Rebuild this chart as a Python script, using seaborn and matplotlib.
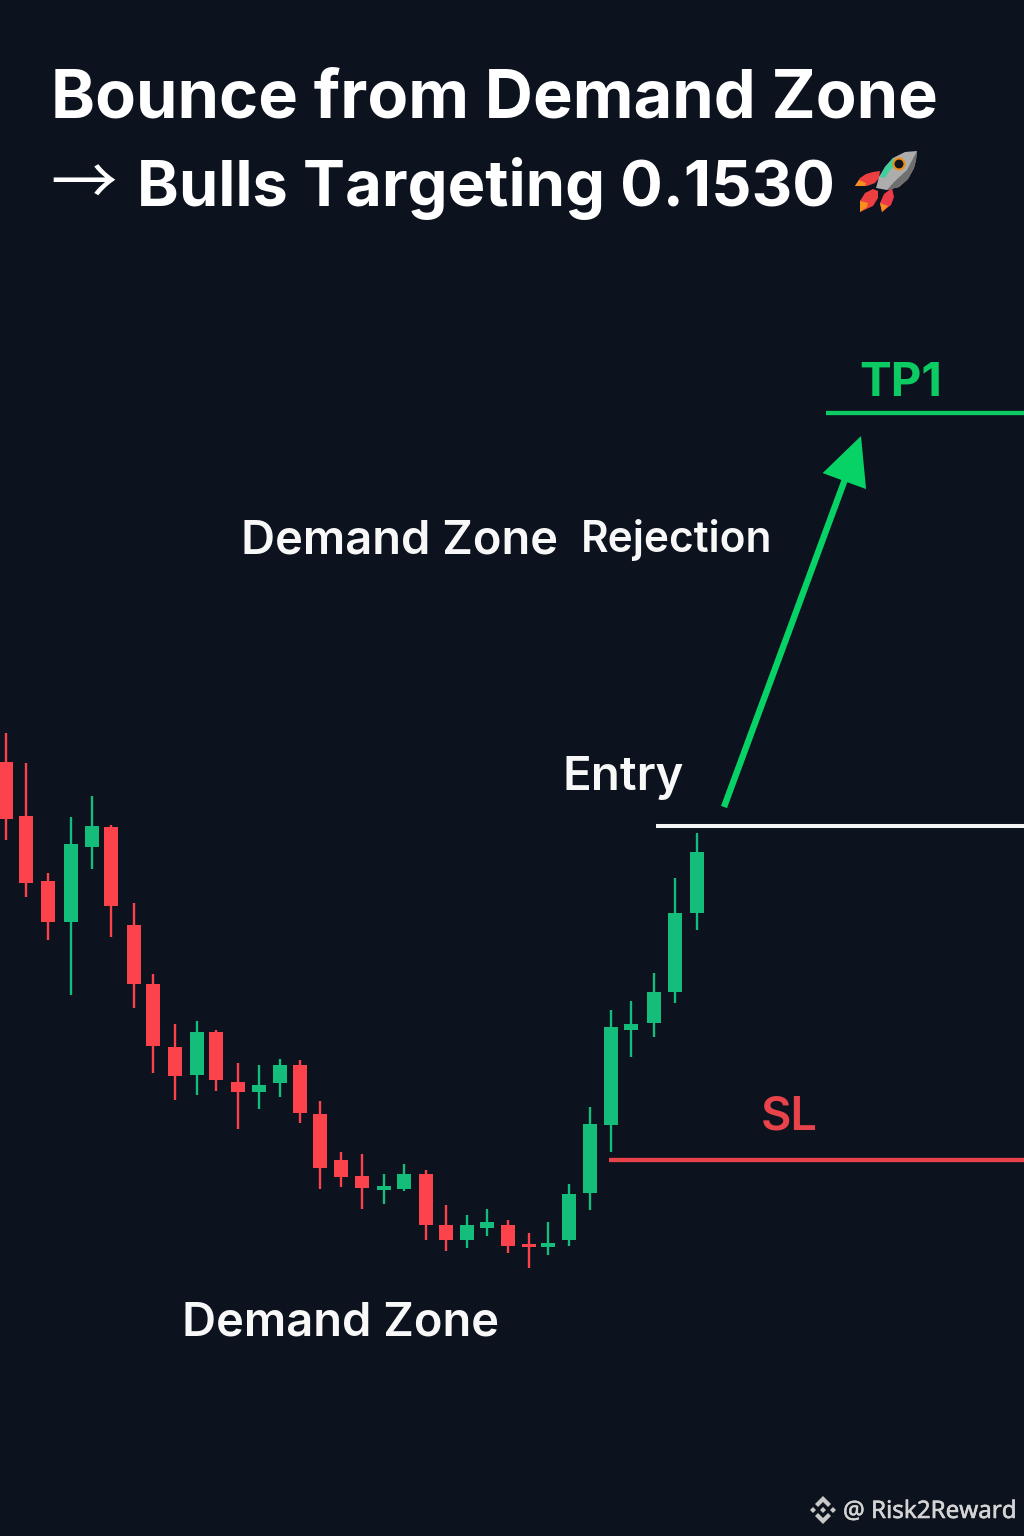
import matplotlib
matplotlib.use("Agg")
import matplotlib.pyplot as plt
import matplotlib.patheffects as pe
import numpy as np
import pandas as pd
import seaborn as sns
from matplotlib.patches import Polygon, Circle, FancyArrowPatch

# ---- data ----
times = [0,0.96,2.01,3.10,4.11,5.01,6.11,7.04,8.07,9.12,10.03,11.08,12.08,13.09,14.04,15.00,16.00,17.00,18.05,19.00,
         20.06,21.01,22.02,22.97,23.97,24.98,25.88,26.89,27.89,28.89,29.85,30.95,31.95,33.0]
highs = [0.14980,0.14950,0.14840,0.14896,0.14917,0.14888,0.14810,0.14739,0.14689,0.14692,0.14683,0.14650,0.14648,0.14654,
         0.14653,0.14612,0.14561,0.14559,0.14539,0.14549,0.14543,0.14508,0.14498,0.14504,0.14493,0.14480,0.14491,0.14529,
         0.14606,0.14703,0.14712,0.14740,0.14835,0.14880]
lows = [0.14873,0.14816,0.14773,0.14718,0.14844,0.14776,0.14705,0.14640,0.14613,0.14618,0.14622,0.14584,0.14604,0.14616,
        0.14590,0.14524,0.14526,0.14504,0.14509,0.14522,0.14473,0.14462,0.14465,0.14477,0.14460,0.14445,0.14458,0.14467,
        0.14503,0.14561,0.14656,0.14676,0.14710,0.14783]
opens = [0.14951,0.14897,0.14832,0.14791,0.14866,0.14886,0.14788,0.14729,0.14666,0.14638,0.14681,0.14631,0.14621,0.14630,
         0.14648,0.14599,0.14553,0.14537,0.14523,0.14524,0.14539,0.14488,0.14473,0.14485,0.14488,0.14469,0.14466,0.14473,
         0.14520,0.14588,0.14683,0.14690,0.14721,0.14800]
closes = [0.14894,0.14830,0.14791,0.14869,0.14887,0.14807,0.14729,0.14667,0.14637,0.14681,0.14633,0.14621,0.14628,0.14648,
          0.14600,0.14545,0.14536,0.14525,0.14527,0.14539,0.14488,0.14473,0.14488,0.14491,0.14467,0.14466,0.14470,0.14519,
          0.14589,0.14686,0.14689,0.14721,0.14800,0.14861]
tp1_level = 0.15300
entry_level = 0.14887
sl_level = 0.14553
level_names = ["TP1", "Entry", "SL"]
title_lines = ["Bounce from Demand Zone", "Bulls Targeting 0.1530"]
zone_labels = ["Demand Zone", "Rejection"]
watermark = "@ Risk2Reward"

BG = "#0c121e"
UP = "#14bd7a"
DOWN = "#fc424a"

W, H = 1024, 1536
sns.set_theme(style="dark", rc={"figure.facecolor": BG, "axes.facecolor": BG,
                                "axes.grid": False, "savefig.facecolor": BG})
plt.rcParams["font.family"] = ["Inter", "DejaVu Sans"]

fig = plt.figure(figsize=(W / 100, H / 100), dpi=100)
ax = fig.add_axes([0, 0, 1, 1])

step = 20.94
x0 = 6.0
ax.set_xlim(-x0 / step, (W - x0) / step)
ax.set_ylim(0.15300 - (H - 413) * 1e-5, 0.15300 + 413 * 1e-5)

df = pd.DataFrame({"t": times, "open": opens, "close": closes, "high": highs, "low": lows})
df["dir"] = np.where(df["close"] >= df["open"], "up", "down")
long = df.melt(id_vars=["t", "dir"], value_vars=["low", "high"], value_name="price")
sns.lineplot(data=long, x="t", y="price", hue="dir", units="t", estimator=None,
             palette={"up": UP, "down": DOWN}, legend=False, linewidth=1.7,
             solid_capstyle="butt", ax=ax)
colors = [UP if c >= o else DOWN for o, c in zip(opens, closes)]
ax.bar(df["t"], np.abs(df["close"] - df["open"]), bottom=df[["open", "close"]].min(axis=1),
       width=14 / step, color=colors, linewidth=0, zorder=3)

def px2i(px):
    return (px - x0) / step

xr = px2i(W)
ax.plot([px2i(826), xr], [tp1_level] * 2, color="#0bcb62", lw=3.1, solid_capstyle="butt")
ax.plot([px2i(656), xr], [entry_level] * 2, color="#f5f5f5", lw=2.9, solid_capstyle="butt")
ax.plot([px2i(609), xr], [sl_level] * 2, color="#e8434a", lw=3.1, solid_capstyle="butt")

arrow = FancyArrowPatch((px2i(724), 0.15713 - 807e-5), (px2i(861), 0.15713 - 436e-5),
                        arrowstyle="-|>,head_length=2.7,head_width=1.3", mutation_scale=10,
                        color="#07d266", lw=4.6, shrinkA=0, shrinkB=0, joinstyle="miter", capstyle="butt",
                        zorder=4)
ax.add_patch(arrow)
ax.set_axis_off()

def T(x, y, s, **kw):
    kw.setdefault("va", "baseline")
    kw.setdefault("ha", "left")
    return fig.text(x / W, 1 - y / H, s, **kw)

T(51, 118, title_lines[0], fontsize=48.05, fontweight="bold", color="white")
T(50, 206, "→", fontsize=48, family=["Noto Sans CJK SC", "DejaVu Sans"], color="white")
T(137, 206, title_lines[1], fontsize=45.5, fontweight="bold", color="white")
T(859, 396, level_names[0], fontsize=34.2, fontweight="bold", color="#0bcb62")
T(241, 553, zone_labels[0], fontsize=33.9, fontweight="semibold", color="#f8f8f8")
T(581, 552, zone_labels[1], fontsize=30.5, fontweight="semibold", color="#f8f8f8")
T(563, 790, level_names[1], fontsize=34.1, fontweight="semibold", color="#f8f8f8")
T(761, 1130, level_names[2], fontsize=33.8, fontweight="semibold", color="#e8434a")
T(182, 1336, zone_labels[0], fontsize=33.9, fontweight="semibold", color="#f8f8f8")
T(843, 1518, watermark, fontsize=17.4, family=["Noto Sans", "DejaVu Sans"], color="#d4d4d4",
  path_effects=[pe.withStroke(linewidth=0.4, foreground="#d4d4d4")])

deco = fig.add_axes([0, 0, 1, 1], facecolor="none")
deco.set_xlim(0, W)
deco.set_ylim(H, 0)
deco.set_axis_off()

def poly(pts, color, z=5):
    deco.add_patch(Polygon(pts, closed=True, facecolor=color, edgecolor="none", zorder=z))

# rocket
poly([(855,186),(860,178),(866,174),(873,172),(880,171),(879,178),(875,183),(867,186)], "#ec4040")
poly([(855,186),(859,180),(866,183),(865,186)], "#f5901f", 6)
poly([(860,212),(860,201),(865,193),(873,189),(878,191),(878,198),(873,206)], "#ec4040")
poly([(860,212),(860,201),(868,203),(867,207)], "#f5901f", 6)
poly([(882,212),(880,203),(884,194),(892,188),(894,197),(891,205)], "#ec3a48")
poly([(882,212),(880,203),(888,206)], "#f5901f", 6)
poly([(917,151),(905,152),(893,158),(885,167),(879,177),(876,188),(887,190),(899,187),(908,179),(914,168),(916,160)], "#adadad")
poly([(917,151),(916,160),(914,168),(908,179),(899,187),(887,190),(895,181),(907,170)], "#6f6f6f", 6)
poly([(893,158),(885,167),(880,177),(885,178),(890,170),(897,165)], "#3fcf9c", 6)
deco.add_patch(Circle((899, 164), 5.5, facecolor="#10141c", edgecolor="#f28a13", lw=1.5, zorder=7))

# exchange logo
LOGO = "#c9c9c9"
cx, cy = 823, 1510
poly([(cx, cy-14),(cx+8, cy-6),(cx+5, cy-3),(cx, cy-8),(cx-5, cy-3),(cx-8, cy-6)], LOGO)
poly([(cx, cy+14),(cx+8, cy+6),(cx+5, cy+3),(cx, cy+8),(cx-5, cy+3),(cx-8, cy+6)], LOGO)
poly([(cx, cy-3),(cx+3, cy),(cx, cy+3),(cx-3, cy)], LOGO)
poly([(cx-13, cy),(cx-10, cy-3),(cx-7, cy),(cx-10, cy+3)], LOGO)
poly([(cx+13, cy),(cx+10, cy-3),(cx+7, cy),(cx+10, cy+3)], LOGO)

fig.savefig("out.png", dpi=100, facecolor=BG)
